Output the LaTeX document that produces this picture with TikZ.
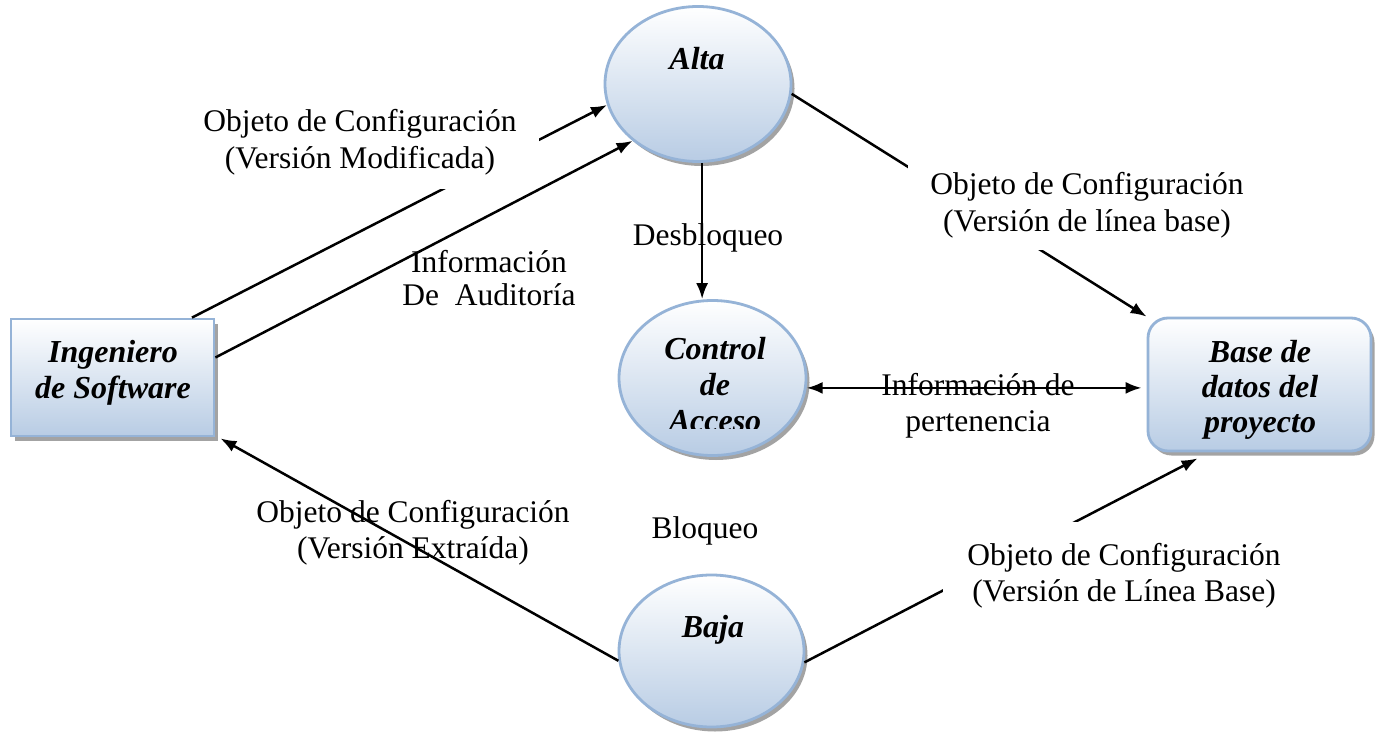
\documentclass[tikz,border=0pt]{standalone}
\usepackage{fontspec}
\setmainfont{Liberation Serif}
\usetikzlibrary{shapes.geometric,shadows,arrows.meta,calc}
\definecolor{bord}{RGB}{149,179,215}
\definecolor{fillb}{RGB}{184,204,228}
\newcommand{\ml}[1]{\vtop{\halign{\hfil##\hfil\cr #1\crcr}}}
\begin{document}
\begin{tikzpicture}[x=1pt,y=-1pt,
  shp/.style={draw=bord, line width=2.8pt, top color=white, bottom color=fillb,
    drop shadow={shadow xshift=3.5pt, shadow yshift=-4.5pt, fill=black!60, opacity=0.6}, inner sep=0pt},
  ell/.style={shp, ellipse},
  lbl/.style={font=\fontsize{31.5}{36.5}\selectfont, inner sep=0pt, anchor=base},
  wlbl/.style={lbl, fill=white, inner xsep=22pt, inner ysep=14pt},
  ttl/.style={font=\fontsize{32}{36}\selectfont\bfseries\itshape, anchor=base, inner sep=0pt},
  tip/.tip={Latex[length=16pt,width=12pt]},
  arr/.style={line width=2.5pt, -tip},
  arrb/.style={line width=2.5pt, tip-tip}]
\useasboundingbox (0,0) rectangle (1381,738);
\fill[white] (0,0) rectangle (1381,738);
% shapes
\node[ell, minimum width=186pt, minimum height=155pt] (alta) at (698,84) {};
\node[ell, minimum width=187pt, minimum height=155pt] (ctrl) at (712.5,378) {};
\node[ell, minimum width=185pt, minimum height=152pt] (baja) at (711.5,651) {};
\node[shp, rectangle, minimum width=203pt, minimum height=117pt] (ing) at (112.5,377.5) {};
\node[shp, rectangle, rounded corners=20pt, minimum width=223pt, minimum height=133pt] (base) at (1259.5,384.5) {};
% shape texts
\node[ttl] (altat) at (697,70) {Alta};
\begin{scope}
\clip (600,300) rectangle (830,428);
\node[ttl] (ctrlt) at (715,359) {\ml{Control\cr de\cr Acceso}};
\end{scope}
\node[ttl] (bajat) at (713,637) {Baja};
\node[ttl] (ingt) at (113,362) {\ml{Ingeniero\cr de Software}};
\node[ttl, font=\fontsize{32}{35}\selectfont\bfseries\itshape] (baset) at (1260,362) {\ml{Base de\cr datos del\cr proyecto}};
% connectors
\draw[arr] (ing.37.5) -- (alta.193);
\node[wlbl] (l1) at (360,132) {\ml{Objeto de Configuración\cr (Versión Modificada)}};
\draw[arr] (ing.11) -- (alta.221);
\draw[arr] (alta.273) -- (alta.273 |- ctrl.north);
\draw[arr] (alta.354) -- (base.north west);
\draw[arrb, shorten >=5pt] (ctrl.354) -- (ctrl.354 -| base.west);
\draw[arr] (baja.186.7) -- ($(ing.south east)+(5,1)$);
\draw[arr] (baja.353.3) -- ($(base.south west)+(51,6)$);
% labels
\node[wlbl, inner ysep=12pt] (l4) at (1087,195) {\ml{Objeto de Configuración\cr (Versión de línea base)}};
\node[wlbl, inner xsep=24pt, inner ysep=21pt] (l8) at (1124,565) {\ml{Objeto de Configuración\cr (Versión de Línea Base)}};
\node[lbl, font=\fontsize{31.5}{33}\selectfont] (l2) at (489,272) {\ml{Información\cr De\ \ Auditoría}};
\node[lbl] (l3) at (708,245) {Desbloqueo};
\node[lbl] (l5) at (978,395) {\ml{Información de\cr pertenencia}};
\node[lbl] (l6) at (413,522) {\ml{Objeto de Configuración\cr (Versión Extraída)}};
\node[lbl] (l7) at (705,538) {Bloqueo};
\end{tikzpicture}
\end{document}
